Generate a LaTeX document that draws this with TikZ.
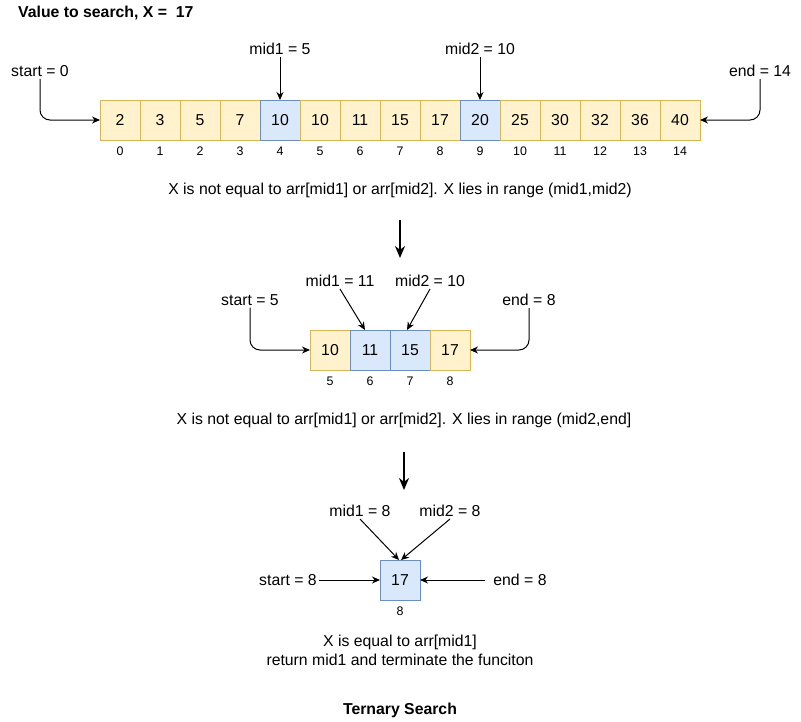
\documentclass[tikz,border=0pt]{standalone}
\usepackage{fontspec}
\setmainfont{Liberation Sans}
\usepackage{tikz}
\usetikzlibrary{arrows.meta,positioning}

\definecolor{yfill}{HTML}{FFF2CC}
\definecolor{ydraw}{HTML}{D6B656}
\definecolor{bfill}{HTML}{DAE8FC}
\definecolor{bdraw}{HTML}{6C8EBF}

\begin{document}
\begin{tikzpicture}[x=1pt, y=-1pt, >={Stealth[length=8pt,width=7pt]},
  cell/.style={draw, minimum size=40pt, inner sep=0pt, outer sep=0pt, line width=1pt, font=\fontsize{15.8}{19}\selectfont},
  ycell/.style={cell, fill=yfill, draw=ydraw},
  bcell/.style={cell, fill=bfill, draw=bdraw},
  idx/.style={font=\fontsize{12.4}{14}\selectfont, inner sep=1.5pt},
  lbl/.style={font=\fontsize{15.8}{19}\selectfont, inner sep=2pt},
  ptr/.style={->, line width=1pt},
  bigarrow/.style={-{Stealth[length=12pt,width=10pt]}, line width=2.5pt}]
  \useasboundingbox (0,0) rectangle (801,721);

  % Header
  \node[lbl, anchor=west, font=\fontsize{15.8}{19}\selectfont\bfseries] (head) at (16,13) {Value to search, X =~ 17};

  % Step 1: full array
  \foreach \v/\s [count=\i from 0] in {2/ycell,3/ycell,5/ycell,7/ycell,10/bcell,10/ycell,11/ycell,15/ycell,17/ycell,20/bcell,25/ycell,30/ycell,32/ycell,36/ycell,40/ycell} {
    \node[\s] (a\i) at (120+40*\i,120) {\v};
    \node[idx, below=5pt of a\i] (ia\i) {\i};
  }
  \node[lbl] (s1) at (40,71) {start = 0};
  \node[lbl] (m11) at (280,49) {mid1 = 5};
  \node[lbl] (m12) at (480,49) {mid2 = 10};
  \node[lbl] (e1) at (760,71) {end = 14};
  \draw[ptr, rounded corners=10pt] (s1.south) |- (a0.west);
  \draw[ptr] (m11.south) -- (a4.north);
  \draw[ptr] (m12.south) -- (a9.north);
  \draw[ptr, rounded corners=10pt] (e1.south) |- (a14.east);
  \node[lbl] (t1) at (400,190) {X is not equal to arr[mid1] or arr[mid2]. X lies in range (mid1,mid2)};

  \coordinate (d1a) at (400,220);
  \coordinate (d1b) at (400,258);
  \draw[bigarrow] (d1a) -- (d1b);

  % Step 2: range 5..8
  \foreach \v/\s [count=\i from 5] in {10/ycell,11/bcell,15/bcell,17/ycell} {
    \node[\s] (b\i) at (130+40*\i,350) {\v};
    \node[idx, below=5pt of b\i] (ib\i) {\i};
  }
  \node[lbl] (s2) at (250,300) {start = 5};
  \node[lbl] (m21) at (340,281) {mid1 = 11};
  \node[lbl] (m22) at (430,281) {mid2 = 10};
  \node[lbl] (e2) at (529,300) {end = 8};
  \draw[ptr, rounded corners=10pt] (s2.south) |- (b5.west);
  \draw[ptr] (m21.south) -- ([xshift=-5pt]b6.north);
  \draw[ptr] (m22.south) -- ([xshift=-3pt]b7.north);
  \draw[ptr, rounded corners=10pt] (e2.south) |- (b8.east);
  \node[lbl] (t2) at (404,420) {X is not equal to arr[mid1] or arr[mid2]. X lies in range (mid2,end]};

  \coordinate (d2a) at (404,452);
  \coordinate (d2b) at (404,490);
  \draw[bigarrow] (d2a) -- (d2b);

  % Step 3: single element
  \node[bcell] (c8) at (400,580) {17};
  \node[idx, below=5pt of c8] (ic8) {8};
  \node[lbl] (s3) at (288,580) {start = 8};
  \node[lbl] (m31) at (360,511) {mid1 = 8};
  \node[lbl] (m32) at (450,511) {mid2 = 8};
  \node[lbl] (e3) at (520,580) {end = 8};
  \draw[ptr] (s3.east) -- (c8.west);
  \draw[ptr] (m31.south) -- ([xshift=-1pt]c8.north);
  \draw[ptr] (m32.south) -- ([xshift=1pt]c8.north);
  \draw[ptr] ([xshift=-6pt]e3.west) -- (c8.east);
  \node[lbl, align=center, font=\fontsize{15.8}{19}\selectfont] (t3) at (400,650) {X is equal to arr[mid1]\\return mid1 and terminate the funciton};

  % Caption
  \node[lbl, font=\fontsize{15.8}{19}\selectfont\bfseries] (cap) at (400,710) {Ternary Search};
\end{tikzpicture}
\end{document}
